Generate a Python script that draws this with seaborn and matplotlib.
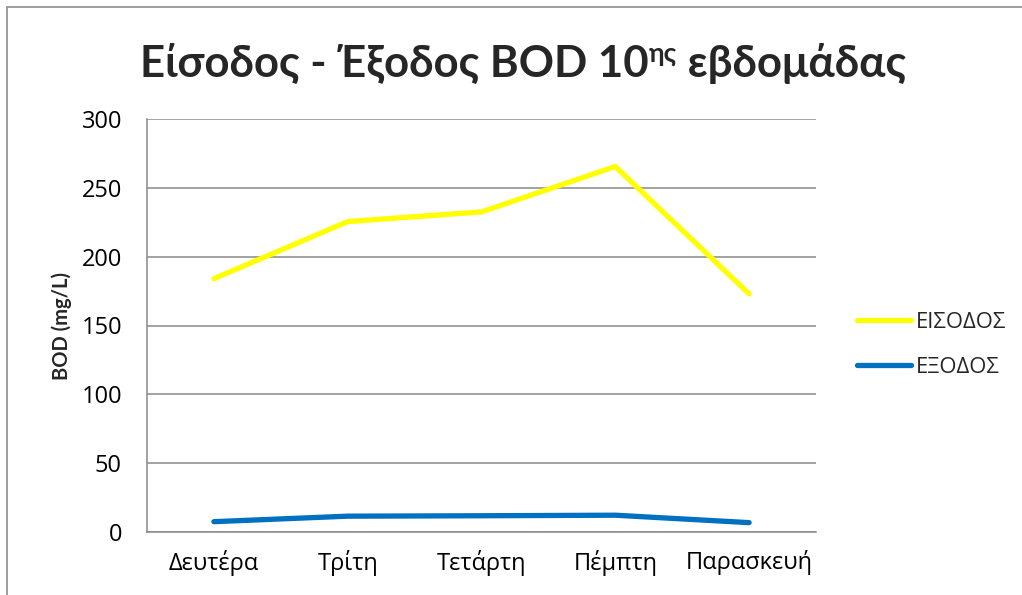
import matplotlib
matplotlib.use("Agg")
import matplotlib.pyplot as plt
import seaborn as sns
import pandas as pd
from matplotlib.patches import Rectangle

# Weekly BOD measurements (mg/L)
days = ["Δευτέρα", "Τρίτη", "Τετάρτη", "Πέμπτη", "Παρασκευή"]
bod_in = [184, 225.5, 232.5, 265.5, 173]
bod_out = [7.5, 11.5, 11.8, 12.2, 6.8]
series_names = ["ΕΙΣΟΔΟΣ", "ΕΞΟΔΟΣ"]
y_ticks = [0, 50, 100, 150, 200, 250, 300]

sns.set_theme(style="white")
plt.rcParams["font.family"] = ["Open Sans", "DejaVu Sans"]
bold_family = ["Lato", "DejaVu Sans"]

df = pd.DataFrame({
    "day": days * 2,
    "pos": list(range(len(days))) * 2,
    "BOD": bod_in + bod_out,
    "series": [series_names[0]] * len(days) + [series_names[1]] * len(days),
})

fig = plt.figure(figsize=(10.22, 5.95), dpi=100)
ax = fig.add_axes([147 / 1022, 1 - 532 / 595, (816 - 147) / 1022, (532 - 119) / 595])

grid_c = "#898989"
palette = {series_names[0]: "#FFFF00", series_names[1]: "#0070C0"}
sns.lineplot(data=df, x="pos", y="BOD", hue="series", palette=palette,
             linewidth=3.8, ax=ax, legend=True, sort=False)
for ln in ax.lines:
    ln.set_solid_capstyle("round")
    ln.set_solid_joinstyle("round")

ax.set_xlim(-0.5, len(days) - 0.5)
ax.set_ylim(0, 300)
ax.set_yticks(y_ticks)
ax.set_yticklabels([str(v) for v in y_ticks])
ax.set_xticks(range(len(days)))
ax.set_xticklabels(days)
ax.tick_params(axis="both", length=0, labelsize=17, colors="black")
ax.tick_params(axis="y", pad=18)
ax.tick_params(axis="x", pad=13)
ax.yaxis.grid(True, color=grid_c, linewidth=1.1)
ax.set_axisbelow(True)
for side in ["top", "right"]:
    ax.spines[side].set_visible(False)
for side in ["left", "bottom"]:
    ax.spines[side].set_color(grid_c)
    ax.spines[side].set_linewidth(1.1)
ax.set_xlabel("")
ax.set_ylabel("BOD (mg/L)", fontsize=14.5, fontweight="bold", labelpad=6.5,
              family=bold_family)

handles, labels = ax.get_legend_handles_labels()
ax.legend(handles, labels, loc="center left",
          bbox_to_anchor=(857 / 1022, 1 - 345 / 595), bbox_transform=fig.transFigure,
          frameon=False, fontsize=15.8, handlelength=2.45, handletextpad=0.25,
          labelspacing=1.1, borderpad=0, borderaxespad=0)

# Chart frame
fig.patches.append(Rectangle((7 / 1022, -0.1), 1.2, 1 - 7 / 595 + 0.1,
                             transform=fig.transFigure, fill=False,
                             edgecolor="#8c8c8c", linewidth=1.2))

# Title with superscript ordinal
fig.canvas.draw()
renderer = fig.canvas.get_renderer()
pieces = [("Είσοδος - Έξοδος BOD 10", 31.5, 0), ("ης", 19, 15), (" εβδομάδας", 31.5, 0)]
texts = []
for s, size, _ in pieces:
    t = fig.text(0, 0, s, fontsize=size, fontweight="bold", ha="left",
                 va="baseline", family=bold_family)
    texts.append(t)
widths = [t.get_window_extent(renderer).width for t in texts]
total = sum(widths)
x = 523 - total / 2
base_y = 595 - 77
for t, w, (_, _, dy) in zip(texts, widths, pieces):
    t.set_position((x / 1022, (base_y + dy) / 595))
    x += w

fig.savefig("out.png", dpi=100)
